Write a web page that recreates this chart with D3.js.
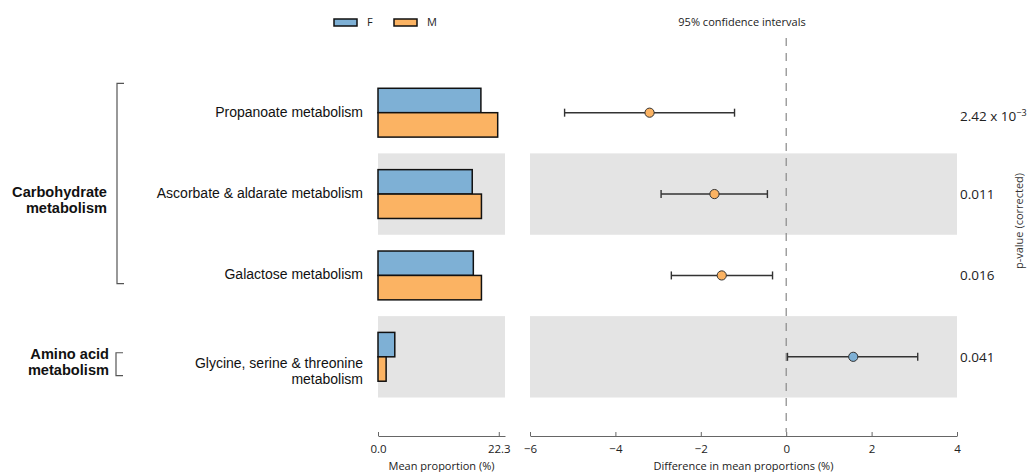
<!DOCTYPE html>
<html>
<head>
<meta charset="utf-8">
<script src="https://cdn.jsdelivr.net/npm/d3@7"></script>
<style>
  html, body { margin: 0; padding: 0; background: #fff; }
  svg { display: block; }
  .lab { font-family: "Liberation Sans", Arial, sans-serif; }
  .num { font-family: "Open Sans", "DejaVu Sans", sans-serif; }
</style>
</head>
<body>
<svg id="chart" width="1029" height="472"></svg>
<script>
// ---------------- data ----------------
const categories = [
  "Propanoate metabolism",
  "Ascorbate & aldarate metabolism",
  "Galactose metabolism",
  "Glycine, serine & threonine metabolism"
];
const categoryLines = [
  ["Propanoate metabolism"],
  ["Ascorbate & aldarate metabolism"],
  ["Galactose metabolism"],
  ["Glycine, serine & threonine", "metabolism"]
];
const seriesNames = ["F", "M"];
const meanF = [19.0, 17.4, 17.6, 3.1];
const meanM = [22.1, 19.1, 19.1, 1.5];
const diffMean = [-3.20, -1.68, -1.51, 1.57];
const ciLow = [-5.19, -2.93, -2.69, 0.03];
const ciHigh = [-1.21, -0.44, -0.32, 3.08];
const pValues = [0.00242, 0.011, 0.016, 0.041];
const groupNames = [["Carbohydrate", "metabolism"], ["Amino acid", "metabolism"]];
const groupFirstRow = [0, 3];
const groupLastRow = [2, 3];
const propTicks = [0, 22.3];
const propTickLabels = ["0.0", "22.3"];
const diffTicks = [-6, -4, -2, 0, 2, 4];

// ---------------- layout ----------------
const colF = "#7eb0d5", colM = "#fbb363", shade = "#e4e4e4";
const svg = d3.select("#chart");
const y = d3.scaleBand().domain(d3.range(categories.length)).range([72, 397.5]);
const step = y.step();
const xProp = d3.scaleLinear().domain([0, 23.45]).range([378, 505]);
const xDiff = d3.scaleLinear().domain([-6, 4]).range([530, 957]);
const axisY = 436;
// bracket extents in row fractions [topFrac of first row, bottomFrac of last row]
const bracketFrac = [[0.14, 0.6], [0.45, 0.73]];

// shaded rows
categories.forEach((c, i) => {
  if (i % 2 === 1) {
    svg.append("rect").attr("x", xProp.range()[0]).attr("y", y(i))
      .attr("width", xProp.range()[1] - xProp.range()[0]).attr("height", step).attr("fill", shade);
    svg.append("rect").attr("x", xDiff.range()[0]).attr("y", y(i))
      .attr("width", xDiff.range()[1] - xDiff.range()[0]).attr("height", step).attr("fill", shade);
  }
});

// bars
const barH = step * 0.3;
const barG = svg.append("g");
categories.forEach((c, i) => {
  const cy = y(i) + step / 2;
  barG.append("rect").attr("x", xProp(0)).attr("y", cy - barH)
    .attr("width", xProp(meanF[i]) - xProp(0)).attr("height", barH)
    .attr("fill", colF).attr("stroke", "#111").attr("stroke-width", 1.5);
  barG.append("rect").attr("x", xProp(0)).attr("y", cy)
    .attr("width", xProp(meanM[i]) - xProp(0)).attr("height", barH)
    .attr("fill", colM).attr("stroke", "#111").attr("stroke-width", 1.5);
});

// dashed zero line
svg.append("line").attr("x1", xDiff(0)).attr("x2", xDiff(0))
  .attr("y1", 38).attr("y2", axisY - 4)
  .attr("stroke", "#888").attr("stroke-width", 1.2).attr("stroke-dasharray", "8,7");

// error bars
const eb = svg.append("g");
categories.forEach((c, i) => {
  const cy = y(i) + step / 2;
  eb.append("line").attr("x1", xDiff(ciLow[i])).attr("x2", xDiff(ciHigh[i]))
    .attr("y1", cy).attr("y2", cy).attr("stroke", "#333").attr("stroke-width", 1.6);
  [ciLow[i], ciHigh[i]].forEach(v => {
    eb.append("line").attr("x1", xDiff(v)).attr("x2", xDiff(v))
      .attr("y1", cy - 4).attr("y2", cy + 4).attr("stroke", "#333").attr("stroke-width", 1.4);
  });
  eb.append("circle").attr("cx", xDiff(diffMean[i])).attr("cy", cy).attr("r", 4.6)
    .attr("fill", diffMean[i] < 0 ? colM : colF).attr("stroke", "#333").attr("stroke-width", 1);
});

// category labels
categories.forEach((c, i) => {
  const lines = categoryLines[i];
  const cy = y(i) + step / 2;
  const y0 = lines.length === 1 ? cy - 1 : cy + 6;
  const t = svg.append("text").attr("class", "lab").attr("text-anchor", "end")
    .attr("font-size", 14).attr("fill", "#111");
  lines.forEach((l, k) => {
    t.append("tspan").attr("x", 363).attr("y", y0 + k * 16.5).attr("dy", "0.35em").text(l);
  });
});

// group labels & brackets
groupNames.forEach((g, gi) => {
  const a = groupFirstRow[gi], b = groupLastRow[gi];
  const top = y(a) + bracketFrac[gi][0] * step;
  const bot = y(b) + bracketFrac[gi][1] * step;
  const bx = gi === 0 ? 117 : 116;
  svg.append("path")
    .attr("d", `M${bx + 7},${top} H${bx} V${bot} H${bx + 7}`)
    .attr("fill", "none").attr("stroke", "#555").attr("stroke-width", 1.2);
  const cy = (y(a) + y(b) + step) / 2 + 5.5;
  const t = svg.append("text").attr("class", "lab").attr("text-anchor", "end")
    .attr("font-size", 14.6).attr("font-weight", "bold").attr("fill", "#111");
  g.forEach((l, k) => {
    t.append("tspan").attr("x", gi === 0 ? 107 : 109).attr("y", cy + (k - 0.5) * 16).attr("dy", "0.35em").text(l);
  });
});

// p-values
categories.forEach((c, i) => {
  const cy = y(i) + step / 2;
  const p = pValues[i];
  const t = svg.append("text").attr("class", "num").attr("x", 960).attr("y", cy)
    .attr("dy", "0.35em").attr("font-size", 13.5).attr("fill", "#222");
  if (p < 0.01) {
    const e = Math.floor(Math.log10(p));
    const m = p / Math.pow(10, e);
    t.attr("y", cy + 4);
    t.append("tspan").text(m.toFixed(2) + " x 10");
    t.append("tspan").attr("dy", "-0.55em").attr("font-size", 9).text("\u2212" + Math.abs(e));
  } else {
    t.text(p.toFixed(3));
  }
});
svg.append("text").attr("class", "num").attr("transform", `translate(1019,221) rotate(-90)`)
  .attr("text-anchor", "middle").attr("dy", "0.35em").attr("font-size", 11).attr("fill", "#333")
  .text("p-value (corrected)");

// axes
function styleAxis(g) {
  g.selectAll("path.domain").attr("stroke", "#666").attr("stroke-width", 1);
  g.selectAll(".tick line").attr("stroke", "#666");
  g.selectAll(".tick text").attr("class", "num").attr("font-size", 11.5).attr("fill", "#222")
    .attr("font-family", "'Open Sans', sans-serif");
}
const axP = svg.append("g").attr("transform", `translate(0,${axisY})`)
  .call(d3.axisBottom(xProp).tickValues(propTicks).tickFormat((d, i) => propTickLabels[i])
    .tickSizeInner(-4).tickSizeOuter(0).tickPadding(9));
styleAxis(axP);
const axD = svg.append("g").attr("transform", `translate(0,${axisY})`)
  .call(d3.axisBottom(xDiff).tickValues(diffTicks).tickFormat(d => d < 0 ? "\u2212" + Math.abs(d) : String(d))
    .tickSizeInner(-4).tickSizeOuter(0).tickPadding(9));
styleAxis(axD);

svg.append("text").attr("class", "num").attr("x", (xProp.range()[0] + xProp.range()[1]) / 2).attr("y", 466)
  .attr("dy", "0.35em").attr("text-anchor", "middle").attr("font-size", 11).attr("fill", "#222")
  .text("Mean proportion (%)");
svg.append("text").attr("class", "num").attr("x", (xDiff.range()[0] + xDiff.range()[1]) / 2).attr("y", 466)
  .attr("dy", "0.35em").attr("text-anchor", "middle").attr("font-size", 11).attr("fill", "#222")
  .text("Difference in mean proportions (%)");

// legend
const legX = [334, 394];
[colF, colM].forEach((c, i) => {
  svg.append("rect").attr("x", legX[i]).attr("y", 19).attr("width", 23).attr("height", 7)
    .attr("fill", c).attr("stroke", "#111").attr("stroke-width", 1.5);
  svg.append("text").attr("class", "num").attr("x", legX[i] + 33).attr("y", 22.5).attr("dy", "0.35em")
    .attr("font-size", 11).attr("fill", "#222").text(seriesNames[i]);
});
svg.append("text").attr("class", "num").attr("x", 742).attr("y", 22).attr("dy", "0.35em")
  .attr("text-anchor", "middle").attr("font-size", 11).attr("fill", "#222").text("95% confidence intervals");
</script>
</body>
</html>
